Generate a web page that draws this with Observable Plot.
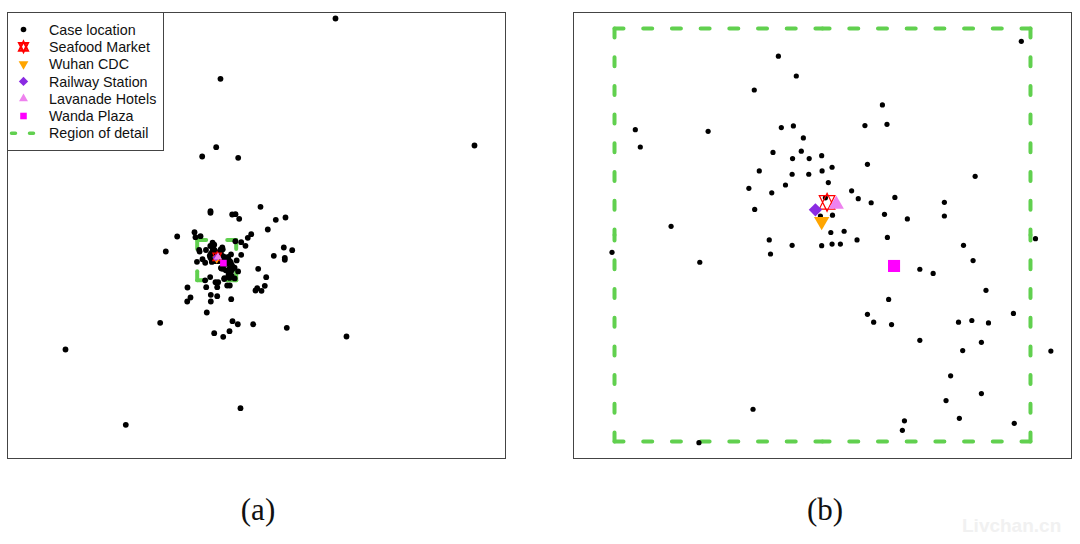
<!DOCTYPE html>
<html>
<head>
<meta charset="utf-8">
<script src="https://cdn.jsdelivr.net/npm/d3@7"></script>
<script src="https://cdn.jsdelivr.net/npm/@observablehq/plot@0.6"></script>
<style>
html, body { margin: 0; padding: 0; background: #fff; }
#root { position: relative; width: 1080px; height: 544px; overflow: hidden; background: #fff; font-family: "Liberation Sans", Arial, sans-serif; }
.panel { position: absolute; top: 11px; }
.caption { position: absolute; top: 490px; width: 80px; text-align: center; font-family: "Liberation Serif", "DejaVu Serif", serif; font-size: 31px; line-height: 40px; color: #111; }
.watermark { position: absolute; left: 962px; top: 515px; font-family: "Liberation Sans", Arial, sans-serif; font-size: 19px; font-weight: bold; color: #f1f1f1; }
</style>
</head>
<body>
<div id="root"></div>
<script>
// ---- Data (coordinates in km; region of detail is 10 x 10 km) ----
const caseX = [
  3.94, 4.37, 3.36, 0.50, 0.62, 2.25, 4.01, 4.30, 4.54, 3.81,
  4.49, 4.28, 4.68, 4.98, 9.78, 6.44, 6.02, 6.55, 5.23, 4.67,
  4.99, 5.14, 6.08, 5.70, 5.86, 6.17, 6.74, 8.67, 7.93, 7.93,
  6.49, 7.04, 5.24, 5.20, 5.52, 5.83, 6.56, 10.12, 5.07, 3.48,
  4.27, 4.11, 3.23, 3.78, 3.37, 1.36, 3.72, -0.06, 2.05, 3.75,
  4.27, 4.98, 3.33, 2.03, 5.23, 5.43, 8.39, 8.62, 7.34, 7.66,
  8.93, 6.59, 6.08, 6.23, 6.66, 8.27, 8.59, 8.99, 9.59, 7.34,
  8.82, 8.37, 10.49, 8.08, 8.82, 7.97, 8.29, 6.97, 6.92, 9.61,
  4.95,
  35.46, 5.97, 71.10, 4.87, 1.28, 10.51, 3.41, 3.41, 16.23, 8.97,
  9.82, 10.77, 20.15, 22.64, 18.10, 13.85, 12.97, -5.13, -0.69, -0.44,
  0.85, 12.38, 11.28, 11.28, -8.05, 22.21, 24.36, 19.64, 22.46, 22.46,
  15.64, 17.69, 17.33, 15.38, 14.95, 16.49, -2.49, -1.72, -2.56, 3.49,
  3.49, 5.13, 8.72, 2.46, -9.49, 9.05, 10.41, 14.36, 4.36, 6.67,
  8.28, 22.97, 38.28, -33.77, 11.10, -18.31, 2.31, 5.13, 5.38, 4.69,
  7.69, 8.36
];
const caseY = [
  9.33, 8.85, 8.51, 7.55, 7.13, 7.51, 7.60, 7.64, 7.35, 7.00,
  7.03, 6.85, 6.85, 6.92, 9.69, 8.15, 7.65, 7.68, 6.64, 6.47,
  6.55, 6.27, 6.71, 6.07, 5.88, 5.78, 5.91, 6.42, 5.79, 5.46,
  5.50, 5.39, 5.48, 5.06, 5.09, 4.88, 4.94, 4.91, 5.90, 6.55,
  6.47, 6.21, 6.13, 6.02, 5.62, 5.21, 4.88, 4.58, 4.34, 4.54,
  4.75, 4.74, 0.78, -0.03, 4.78, 4.78, 4.75, 4.38, 4.17, 4.07,
  3.66, 3.44, 3.08, 2.89, 2.83, 2.89, 2.93, 2.87, 3.10, 2.45,
  2.40, 2.20, 2.19, 1.59, 1.16, 0.99, 0.56, 0.50, 0.27, 0.44,
  5.46,
  65.10, 50.10, 33.51, 33.08, 30.77, 30.45, 17.16, 16.77, 18.26, 16.34,
  16.42, 15.27, 15.02, 15.60, 12.61, 11.44, 10.55, 10.87, 11.94, 10.70,
  10.95, 8.56, 9.45, 6.32, 7.14, 8.13, 7.46, 6.07, 5.57, 5.07,
  2.84, 0.75, -1.39, -1.99, -2.56, -2.64, -1.82, -4.30, -5.30, -3.63,
  -5.30, -3.98, -4.73, -8.03, -10.60, -10.20, -10.95, -10.95, -13.18, -14.08,
  -12.69, -11.84, -14.00, -17.24, -31.84, -35.97, -1.74, -1.74, -0.50, -0.50,
  -1.32, -1.32
];
const siteNames = ["Seafood Market", "Wuhan CDC", "Railway Station", "Lavanade Hotels", "Wanda Plaza"];
const siteX = [5.11, 4.98, 4.83, 5.33, 6.72];
const siteY = [5.79, 5.33, 5.61, 5.74, 4.25];
const regionX = [0, 10];
const regionY = [0, 10];
const legendLabels = ["Case location", ...siteNames, "Region of detail"];
const panelLabels = ["(a)", "(b)"];

// ---- Styles ----
const siteColors = ["#FF0000", "#FFA500", "#8A2BE2", "#EE82EE", "#FF00FF"];
const regionColor = "#61D04F";
const frameColor = "#444";
const overviewDomain = {x: [-48.64, 79.05], y: [-44.35, 66.59]};
const detailDomain = {x: [-0.986, 10.986], y: [-0.412, 10.387]};

const sqrt3 = Math.sqrt(3);
const triDown = {draw(c, size) {
  const y = Math.sqrt(size / (sqrt3 * 3));
  c.moveTo(0, 2 * y); c.lineTo(sqrt3 * y, -y); c.lineTo(-sqrt3 * y, -y); c.closePath();
}};
const starDavid = {draw(c, size) {
  const r = Math.sqrt(size / Math.PI), xc = r * sqrt3 / 2, yc = 0.75 * r;
  c.moveTo(0, -r); c.lineTo(xc, yc); c.lineTo(-xc, yc); c.closePath();
  c.moveTo(0, r); c.lineTo(xc, -yc); c.lineTo(-xc, -yc); c.closePath();
}};
const siteStyles = [
  {symbol: starDavid, fill: "none", stroke: siteColors[0], strokeWidth: 1.2, r: 9},
  {symbol: triDown, fill: siteColors[1], r: 5.7},
  {symbol: "diamond2", fill: siteColors[2], r: 6},
  {symbol: "triangle", fill: siteColors[3], r: 5.7},
  {symbol: "square", fill: siteColors[4], r: 6.8}
];

const cases = caseX.map((x, i) => ({x, y: caseY[i]}));
const sites = siteNames.map((name, i) => ({name, x: siteX[i], y: siteY[i]}));
const [x0, x1] = regionX, [y0, y1] = regionY;
const xm = (x0 + x1) / 2, ym = (y0 + y1) / 2;
const regionSegments = [
  {x1: x0, y1: y0, x2: xm, y2: y0}, {x1: x1, y1: y0, x2: xm, y2: y0},
  {x1: x0, y1: y1, x2: xm, y2: y1}, {x1: x1, y1: y1, x2: xm, y2: y1},
  {x1: x0, y1: y0, x2: x0, y2: ym}, {x1: x0, y1: y1, x2: x0, y2: ym},
  {x1: x1, y1: y0, x2: x1, y2: ym}, {x1: x1, y1: y1, x2: x1, y2: ym}
];

function panel(dom, k, dotR) {
  const inside = d => d.x >= dom.x[0] && d.x <= dom.x[1] && d.y >= dom.y[0] && d.y <= dom.y[1];
  return Plot.plot({
    width: 500, height: 448, margin: 1,
    x: {domain: dom.x, axis: null},
    y: {domain: dom.y, axis: null},
    style: {background: "transparent"},
    marks: [
      Plot.link(regionSegments, {x1: "x1", y1: "y1", x2: "x2", y2: "y2", stroke: regionColor,
        strokeWidth: 4, strokeDasharray: "9,19.7", strokeLinecap: "round"}),
      Plot.dot(cases.filter(inside), {x: "x", y: "y", r: dotR, fill: "black"}),
      ...sites.map((s, i) => Plot.dot([s], {x: "x", y: "y", ...siteStyles[i], r: siteStyles[i].r * k})),
      Plot.frame({stroke: frameColor, strokeWidth: 1})
    ]
  });
}

const root = document.getElementById("root");
const pa = panel(overviewDomain, 0.55, 2.9);
pa.classList.add("panel"); pa.style.left = "6px";
const pb = panel(detailDomain, 1, 2.6);
pb.classList.add("panel"); pb.style.left = "572px";
root.appendChild(pa); root.appendChild(pb);

// ---- Legend (inside panel a) ----
const leg = d3.create("svg").attr("width", 170).attr("height", 156)
  .style("position", "absolute").style("left", "0px").style("top", "0px");
leg.append("rect").attr("x", 7.5).attr("y", 12.5).attr("width", 156).attr("height", 138)
  .attr("fill", "white").attr("stroke", frameColor).attr("stroke-width", 1);
const legSym = [
  {type: d3.symbolCircle, r: 2.8, fill: "black"},
  {type: starDavid, r: 5.2, fill: "none", stroke: siteColors[0], sw: 2},
  {type: triDown, r: 3.6, fill: siteColors[1]},
  {type: d3.symbolDiamond2, r: 4.2, fill: siteColors[2]},
  {type: d3.symbolTriangle, r: 3.3, fill: siteColors[3]},
  {type: d3.symbolSquare, r: 3.7, fill: siteColors[4]}
];
legendLabels.forEach((label, i) => {
  const cy = 29.5 + i * 17.3;
  if (i < legSym.length) {
    const s = legSym[i];
    leg.append("path").attr("transform", `translate(23.5,${cy})`)
      .attr("d", d3.symbol(s.type, Math.PI * s.r * s.r)())
      .attr("fill", s.fill).attr("stroke", s.stroke || "none").attr("stroke-width", s.sw || 0);
  } else {
    leg.append("line").attr("x1", 11.5).attr("x2", 34.5).attr("y1", cy).attr("y2", cy)
      .attr("stroke", regionColor).attr("stroke-width", 3.5)
      .attr("stroke-dasharray", "4,14").attr("stroke-linecap", "round");
  }
  leg.append("text").attr("x", 49).attr("y", cy).attr("dy", "0.36em")
    .attr("font-family", "'Liberation Sans', Arial, sans-serif").attr("font-size", 14.3)
    .attr("fill", "#111").text(label);
});
root.appendChild(leg.node());

// ---- Panel captions ----
[[218, panelLabels[0]], [785, panelLabels[1]]].forEach(([left, t]) => {
  const d = document.createElement("div");
  d.className = "caption"; d.style.left = left + "px"; d.textContent = t;
  root.appendChild(d);
});
const wm = document.createElement("div");
wm.className = "watermark"; wm.textContent = "Livchan.cn";
root.appendChild(wm);
</script>
</body>
</html>
